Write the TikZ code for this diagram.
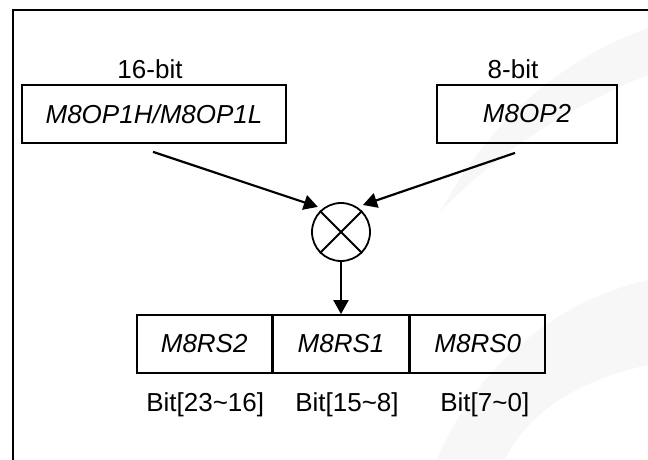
\documentclass[tikz,border=0pt]{standalone}
\usepackage{fontspec}
\setmainfont{Liberation Sans}
\usetikzlibrary{arrows.meta,positioning}

\begin{document}
\begin{tikzpicture}[x=1pt, y=-1pt,
    font=\fontsize{26}{30}\selectfont,
    reg/.style={draw, line width=1.8pt, minimum height=58pt, inner sep=0pt,
      font=\fontsize{26}{30}\selectfont\itshape},
    arr/.style={line width=2.2pt, -{Triangle[length=14pt,width=15pt]}},
    lbl/.style={inner sep=0pt}]
    \useasboundingbox (0,0) rectangle (648,459);
    % faint watermark
    \fill[gray!6] (440,212) .. controls (490,120) and (560,60) .. (648,28)
      -- (648,75) .. controls (560,110) and (490,160) .. (440,212) -- cycle;
    \fill[gray!6] (437,459) .. controls (480,360) and (560,300) .. (648,280)
      -- (648,365) .. controls (580,380) and (530,410) .. (505,459) -- cycle;
    \draw[line width=2.2pt] (13,462) -- (13,10) -- (650,10);

    \node[reg, minimum width=264pt] (opa) at (154,114) {M8OP1H/M8OP1L};
    \node[reg, minimum width=180pt] (opb) at (527,114) {M8OP2};
    \node[lbl, above=5pt of opa, xshift=-4pt] (wa) {16-bit};
    \node[lbl, above=5pt of opb, xshift=-14pt] (wb) {8-bit};

    \node[draw, circle, line width=1.8pt, minimum size=58pt, inner sep=0pt] (mul) at (341,232) {};
    \draw[line width=1.8pt] (mul.45) -- (mul.225) (mul.135) -- (mul.315);

    \node[reg, minimum width=135pt] (rs1) at (341,344) {M8RS1};
    \node[reg, minimum width=135pt, left=0pt of rs1] (rs2) {M8RS2};
    \node[reg, minimum width=135pt, right=0pt of rs1] (rs0) {M8RS0};
    \foreach \r/\txt/\dx in {rs2/{Bit[23\textasciitilde 16]}/1,
        rs1/{Bit[15\textasciitilde 8]}/6, rs0/{Bit[7\textasciitilde 0]}/7}
      \node[lbl, below=19pt of \r, xshift=\dx pt] (b\r) {\txt};

    \draw[arr, shorten >=5pt] ([shift={(-1pt,-8pt)}]opa.south) -- (mul.128);
    \draw[arr, shorten >=6pt] ([shift={(-12pt,-9pt)}]opb.south) -- (mul.57);
    \draw[arr] (mul.south) -- (rs1.north);
\end{tikzpicture}
\end{document}
